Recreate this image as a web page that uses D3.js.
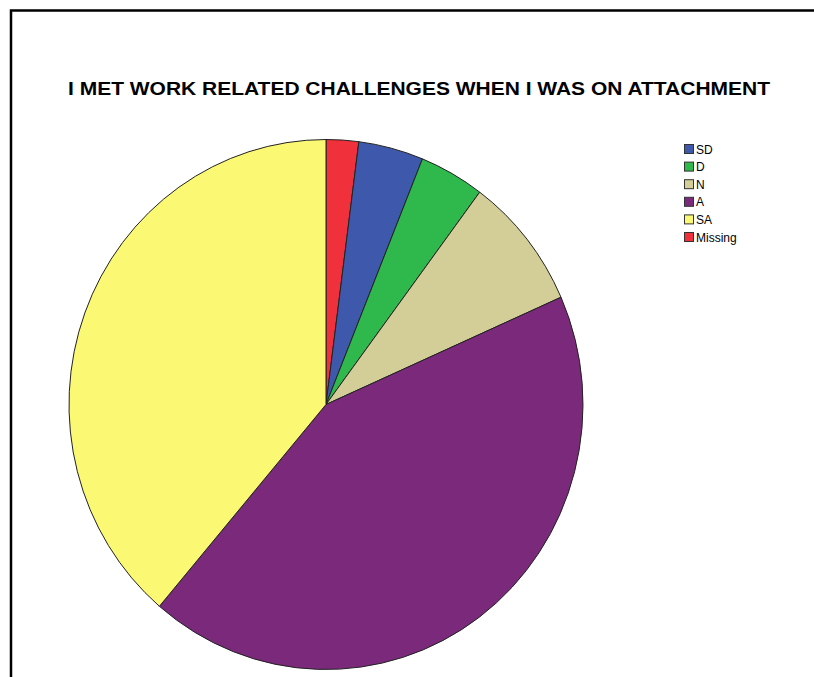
<!DOCTYPE html>
<html>
<head>
<meta charset="utf-8">
<script src="https://cdn.jsdelivr.net/npm/d3@7"></script>
<style>
  body { margin: 0; background: #fff; }
  svg { display: block; font-family: "Liberation Sans", Arial, sans-serif; }
</style>
</head>
<body>
<svg id="chart"></svg>
<script>
// responses, in legend order
const categories = ["SD", "D", "N", "A", "SA", "Missing"];
const counts = [2, 2, 4, 21, 19, 1];
const colors = ["#3e58ac", "#2fb84b", "#d3ce97", "#7b297b", "#fbf873", "#f0303a"];
const title = "I MET WORK RELATED CHALLENGES WHEN I WAS ON ATTACHMENT";

const width = 814, height = 677;

const svg = d3.select("#chart")
  .attr("width", width)
  .attr("height", height);

// outer frame (runs off the right and bottom edges)
svg.append("rect")
  .attr("x", 11)
  .attr("y", 10.5)
  .attr("width", 900)
  .attr("height", 900)
  .attr("fill", "none")
  .attr("stroke", "#000")
  .attr("stroke-width", 2.5);

svg.append("text")
  .attr("x", 419)
  .attr("y", 95)
  .attr("text-anchor", "middle")
  .attr("font-size", 19)
  .attr("font-weight", "bold")
  .attr("textLength", 702)
  .attr("lengthAdjust", "spacingAndGlyphs")
  .text(title);

// pie: Missing is drawn first from 12 o'clock, then the rest clockwise
const data = categories.map((c, i) => ({ cat: c, value: counts[i], color: colors[i] }));
const pieOrder = [data[data.length - 1], ...data.slice(0, -1)];

const pie = d3.pie()
  .sort(null)
  .value(d => d.value);

const rx = 257, ry = 265;
const arc = d3.arc()
  .innerRadius(0)
  .outerRadius(rx);

svg.append("g")
  .attr("transform", `translate(326,404.5) scale(1,${ry / rx})`)
  .selectAll("path")
  .data(pie(pieOrder))
  .join("path")
    .attr("d", arc)
    .attr("fill", d => d.data.color)
    .attr("stroke", "#222")
    .attr("stroke-width", 1)
    .attr("vector-effect", "non-scaling-stroke");

// legend
const legend = svg.append("g")
  .attr("transform", "translate(684,144)");

const rows = legend.selectAll("g")
  .data(data)
  .join("g")
    .attr("transform", (d, i) => `translate(0,${i * 17.6})`);

rows.append("rect")
  .attr("x", 0.5)
  .attr("y", 0.5)
  .attr("width", 9)
  .attr("height", 9)
  .attr("fill", d => d.color)
  .attr("stroke", "#333")
  .attr("stroke-width", 1);

rows.append("text")
  .attr("x", 12)
  .attr("y", 9.5)
  .attr("font-size", 12)
  .attr("fill", "#000")
  .text(d => d.cat);
</script>
</body>
</html>
